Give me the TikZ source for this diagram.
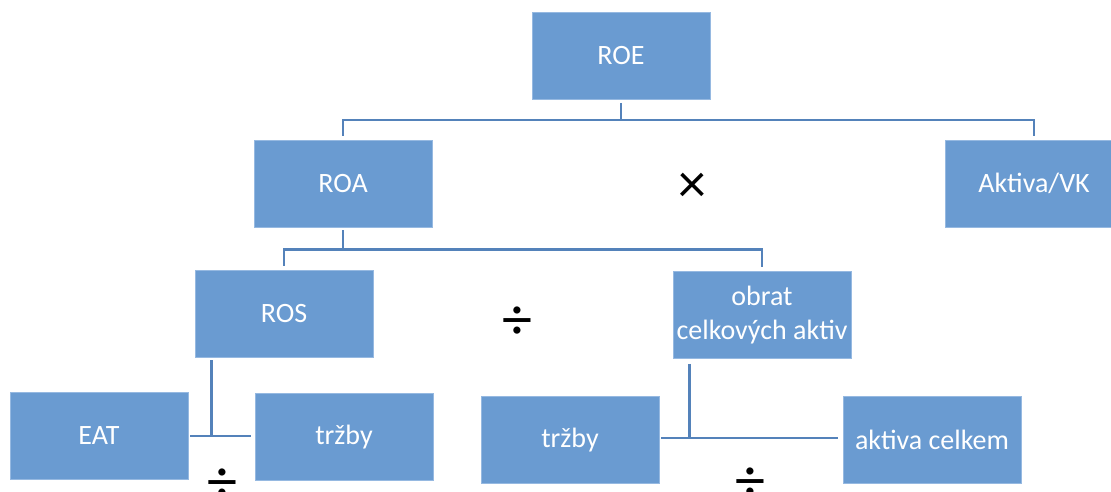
\documentclass[tikz,border=0pt]{standalone}
\usepackage{fontspec}
\setmainfont{Carlito}
\definecolor{boxfill}{RGB}{106,155,209}
\definecolor{boxedge}{RGB}{150,185,225}
\definecolor{linecol}{RGB}{84,130,186}
\begin{document}
\begin{tikzpicture}[x=1pt,y=-1pt,
  fbox/.style={rectangle,fill=boxfill,draw=boxedge,line width=0.8pt,
    minimum width=178pt,minimum height=87pt,inner sep=0pt,
    text=white,align=center,font=\fontsize{28}{34}\selectfont},
  conn/.style={draw=linecol,line width=2.5pt},
  opsym/.style={text=black,inner sep=0pt},
  divsym/.style={opsym,font=\fontsize{60}{60}\selectfont}]
\useasboundingbox (0,0) rectangle (1111,491);
\begin{scope}
\clip (0,0) rectangle (1111,491);
\node[fbox] (ROE) at (621,56) {ROE};
\node[fbox] (ROA) at (343,183.5) {ROA};
\node[fbox] (AVK) at (1034,183.5) {Aktiva/VK};
\node[fbox] (ROS) at (284,313.5) {ROS};
\node[fbox] (OBR) at (762,315) {obrat\\celkových aktiv};
\node[fbox] (EAT) at (99,436) {EAT};
\node[fbox] (TR1) at (344,437) {tržby};
\node[fbox] (TR2) at (570,440) {tržby};
\node[fbox] (AKC) at (932,439.5) {aktiva celkem};
\node[opsym,font=\fontsize{56}{56}\selectfont] (X) at (692,188) {×};
\node[divsym] (D1) at (517,323) {÷};
\node[divsym] (D2) at (222,485) {÷};
\node[divsym] (D3) at (750,484) {÷};
% ROE -> ROA, Aktiva/VK
\coordinate (b1) at ([yshift=-20pt]ROE.south);
\draw[conn] ([yshift=-3pt]ROE.south) -- (b1);
\draw[conn] ([yshift=4pt]ROA.north) |- (b1) -| ([yshift=4pt]AVK.north);
% ROA -> ROS, obrat
\coordinate (b2) at ([yshift=-22pt]ROA.south);
\draw[conn] ([yshift=-3pt]ROA.south) -- (b2);
\draw[conn] ([yshift=4pt]ROS.north) |- (b2) -| ([yshift=4pt]OBR.north);
% ROS -> EAT / trzby
\coordinate (t1) at ([xshift=17pt,yshift=-3pt]ROS.south west);
\draw[conn] (t1) -- (t1 |- EAT.east);
\draw[conn] ([xshift=2pt]EAT.east) -- ([xshift=-4pt]TR1.west |- EAT.east);
% obrat -> trzby / aktiva celkem
\coordinate (t2) at ([xshift=17pt,yshift=-5pt]OBR.south west);
\draw[conn] (t2) -- (t2 |- 0,438);
\draw[conn] ([xshift=2pt]TR2.east |- 0,438) -- ([xshift=-5pt]AKC.west |- 0,438);
\end{scope}
\end{tikzpicture}
\end{document}
